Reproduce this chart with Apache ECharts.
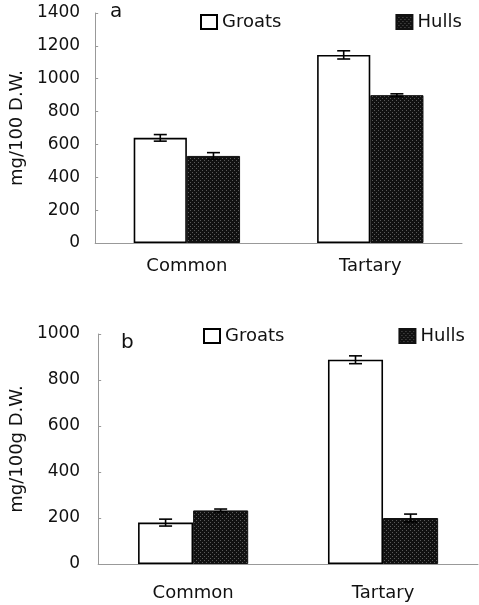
<!DOCTYPE html>
<html>
<head>
<meta charset="utf-8">
<script src="https://cdn.jsdelivr.net/npm/echarts@6/dist/echarts.min.js"></script>
<style>html,body{margin:0;padding:0;background:#fff;}#c{width:479px;height:605px;}</style>
</head>
<body>
<div id="c"></div>
<script>
// ---- data ----
const categories = ['Common', 'Tartary'];
const seriesNames = ['Groats', 'Hulls'];
// Panel a (mg/100 D.W.)
const aGroats = [640, 1145];
const aHulls = [530, 900];
const aGroatsErr = [20, 25];
const aHullsErr = [20, 8];
// Panel b (mg/100g D.W.)
const bGroats = [180, 888];
const bHulls = [233, 200];
const bGroatsErr = [15, 17];
const bHullsErr = [6, 17];
const aTicks = [0, 200, 400, 600, 800, 1000, 1200, 1400];
const bTicks = [0, 200, 400, 600, 800, 1000];

// hulls texture
const pc = document.createElement('canvas');
pc.width = 4; pc.height = 4;
const px = pc.getContext('2d');
px.fillStyle = '#111'; px.fillRect(0, 0, 4, 4);
px.fillStyle = '#5a5a5a'; px.fillRect(0, 0, 1, 1); px.fillRect(2, 2, 1, 1);
const hullFill = { image: pc, repeat: 'repeat' };

const FONT = 'DejaVu Sans';
const GAP = 0.42;

function errSeries(vals, errs, gridIdx, side) {
  return {
    type: 'custom',
    xAxisIndex: gridIdx, yAxisIndex: gridIdx,
    silent: true, z: 5,
    data: vals.map((v, i) => [i, v, errs[i]]),
    renderItem: function (params, api) {
      const i = api.value(0), v = api.value(1), e = api.value(2);
      const band = api.size([1, 0])[0];
      const bw = band * (1 - GAP) / 2;
      const c = api.coord([i, v]);
      const x = c[0] + side * bw / 2;
      const top = api.coord([i, v + e])[1];
      const bot = api.coord([i, v - e])[1];
      const hw = 6.5;
      const st = { stroke: '#000', lineWidth: 1.6 };
      return {
        type: 'group',
        children: [
          { type: 'line', shape: { x1: x, y1: top, x2: x, y2: bot }, style: st },
          { type: 'line', shape: { x1: x - hw, y1: top, x2: x + hw, y2: top }, style: st },
          { type: 'line', shape: { x1: x - hw, y1: bot, x2: x + hw, y2: bot }, style: st }
        ]
      };
    }
  };
}

function barSeries(name, vals, gridIdx) {
  const isG = name === 'Groats';
  return {
    name: name, type: 'bar',
    xAxisIndex: gridIdx, yAxisIndex: gridIdx,
    data: vals,
    barGap: '0%', barCategoryGap: (GAP * 100) + '%',
    itemStyle: isG ? { color: '#fff', borderColor: '#000', borderWidth: 1.6 }
                   : { color: hullFill, borderColor: '#111', borderWidth: 1 },
    emphasis: { disabled: true }
  };
}

function yAxis(gridIdx, max, ticks, name, margin) {
  return {
    gridIndex: gridIdx, type: 'value', min: 0, max: max, interval: 200,
    name: name, nameLocation: 'middle', nameGap: margin + 42, nameRotate: 90,
    nameTextStyle: { fontFamily: FONT, fontSize: 18, color: '#111' },
    axisLine: { show: true, lineStyle: { color: '#999', width: 1 } },
    axisTick: { show: true, inside: true, length: 3, lineStyle: { color: '#999' } },
    axisLabel: { fontFamily: FONT, fontSize: 17, color: '#111', margin: margin,
      formatter: v => ticks.includes(v) ? String(v) : '' },
    splitLine: { show: false }
  };
}

function xAxis(gridIdx, margin) {
  return {
    gridIndex: gridIdx, type: 'category', data: categories,
    axisLine: { show: true, lineStyle: { color: '#999', width: 1 } },
    axisTick: { show: false },
    axisLabel: { fontFamily: FONT, fontSize: 18, color: '#111', margin: margin }
  };
}

function legend(left, top) {
  return {
    left: left, top: top, itemGap: 114, itemWidth: 16, itemHeight: 14,
    icon: 'rect', selectedMode: false,
    textStyle: { fontFamily: FONT, fontSize: 18, color: '#111' },
    data: seriesNames
  };
}

const chart = echarts.init(document.getElementById('c'), null, { renderer: 'canvas' });
chart.setOption({
  animation: false,
  backgroundColor: '#fff',
  grid: [
    { left: 94, width: 368, top: 13, height: 230 },
    { left: 96, width: 382, top: 334, height: 230 }
  ],
  legend: [legend(195, 8), legend(198, 322)],
  xAxis: [xAxis(0, 14), xAxis(1, 20)],
  yAxis: [yAxis(0, 1400, aTicks, 'mg/100 D.W.', 15), yAxis(1, 1000, bTicks, 'mg/100g D.W.', 18)],
  graphic: [
    { type: 'text', left: 110, top: 2, style: { text: 'a', fontFamily: FONT, fontSize: 20, fill: '#111' } },
    { type: 'text', left: 121, top: 333, style: { text: 'b', fontFamily: FONT, fontSize: 20, fill: '#111' } }
  ],
  series: [
    barSeries('Groats', aGroats, 0),
    barSeries('Hulls', aHulls, 0),
    errSeries(aGroats, aGroatsErr, 0, -1),
    errSeries(aHulls, aHullsErr, 0, 1),
    barSeries('Groats', bGroats, 1),
    barSeries('Hulls', bHulls, 1),
    errSeries(bGroats, bGroatsErr, 1, -1),
    errSeries(bHulls, bHullsErr, 1, 1)
  ]
});
</script>
</body>
</html>
